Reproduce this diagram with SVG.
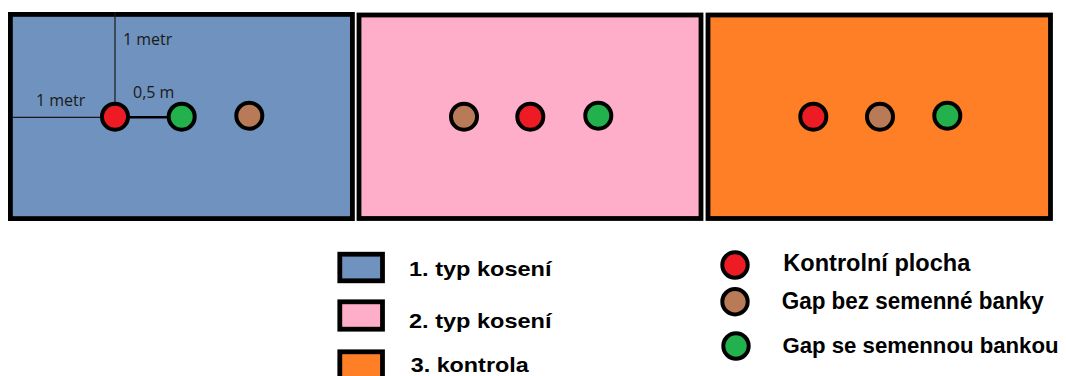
<svg xmlns="http://www.w3.org/2000/svg" width="1066" height="376" viewBox="0 0 1066 376">
<style>
.panel{stroke:#000;stroke-width:4.8}
.dot{stroke:#000;stroke-width:4}
.red{fill:#ED1C24}.green{fill:#22B14C}.brown{fill:#B97A57}
.blue{fill:#7092BE}.pink{fill:#FFAEC9}.orange{fill:#FF7F27}
.dim{font-family:"Open Sans","Liberation Sans",sans-serif;font-size:16px;fill:#1a1a1a}
.leg{font-family:"Liberation Sans",Arial,sans-serif;font-weight:bold;font-size:21px;fill:#000}
.leg2{font-family:"Liberation Sans",Arial,sans-serif;font-weight:bold;font-size:23px;fill:#000}
.thin{stroke:#1a1a1a;stroke-width:1.2;fill:none}
</style>
<rect width="1066" height="376" fill="#fff"/>
<g id="panel1">
<rect class="panel blue" x="10.4" y="14.4" width="342" height="204.2"/>
</g>
<g id="panel2">
<rect class="panel pink" x="359" y="15" width="342" height="203.5"/>
</g>
<g id="panel3">
<rect class="panel orange" x="708" y="15" width="342.5" height="203.5"/>
</g>
<g id="connectors">
<line class="thin" x1="115" y1="12" x2="115" y2="104"/>
<line class="thin" x1="12.8" y1="117.3" x2="102" y2="117.3"/>
<line x1="115" y1="117.3" x2="182" y2="117.3" stroke="#000" stroke-width="2.6"/>
</g>
<g id="labels">
<text class="dim" x="123" y="44.5">1 metr</text>
<text class="dim" x="36" y="106">1 metr</text>
<text class="dim" x="133" y="98">0,5 m</text>
</g>
<g id="p1-dots">
<circle class="dot red" cx="115" cy="116.7" r="13"/>
<circle class="dot green" cx="181.7" cy="116.7" r="13"/>
<circle class="dot brown" cx="249.3" cy="115.7" r="13"/>
</g>
<g id="p2-dots">
<circle class="dot brown" cx="464" cy="116.7" r="13"/>
<circle class="dot red" cx="530.3" cy="116.7" r="13"/>
<circle class="dot green" cx="598.3" cy="115.7" r="13"/>
</g>
<g id="p3-dots">
<circle class="dot red" cx="813.3" cy="116.7" r="13"/>
<circle class="dot brown" cx="880" cy="116.7" r="13"/>
<circle class="dot green" cx="947.3" cy="115.7" r="13"/>
</g>
<g id="legend-types">
<rect class="panel blue" x="339.8" y="254.2" width="42.7" height="26.6"/>
<text class="leg" x="409" y="276" textLength="142.5" lengthAdjust="spacingAndGlyphs">1. typ kosení</text>
<rect class="panel pink" x="339.8" y="301.8" width="42.7" height="27.4"/>
<text class="leg" x="409" y="327.5" textLength="142.5" lengthAdjust="spacingAndGlyphs">2. typ kosení</text>
<rect class="panel orange" x="339.8" y="351.8" width="42.7" height="30"/>
<text class="leg" x="410.7" y="372" textLength="118" lengthAdjust="spacingAndGlyphs">3. kontrola</text>
</g>
<g id="legend-dots">
<circle class="dot red" cx="735" cy="265" r="12.7"/>
<text class="leg2" x="783.3" y="270.5" textLength="187" lengthAdjust="spacingAndGlyphs">Kontrolní plocha</text>
<circle class="dot brown" cx="735" cy="301.7" r="12.7"/>
<text class="leg2" x="781.7" y="308.5" textLength="262" lengthAdjust="spacingAndGlyphs">Gap bez semenné banky</text>
<circle class="dot green" cx="736" cy="346" r="12.7"/>
<text class="leg2" x="782.5" y="353" style="font-size:22px" textLength="276" lengthAdjust="spacingAndGlyphs">Gap se semennou bankou</text>
</g>
</svg>
